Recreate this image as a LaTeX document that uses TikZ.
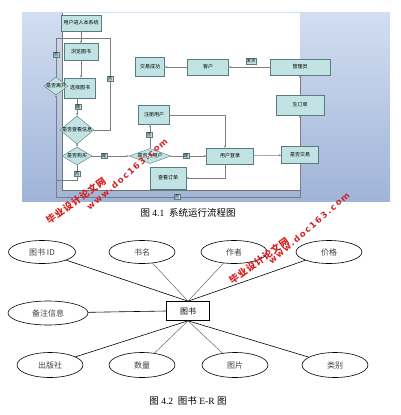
\documentclass[tikz,border=0pt]{standalone}
\usepackage{fontspec}
\setmainfont{Liberation Serif}
\newfontfamily\cjk{Noto Sans CJK SC}
\newfontfamily\cjkwm{Noto Sans CJK SC}[LetterSpace=8]
\newfontfamily\wmfont{DejaVu Sans}[LetterSpace=18]
\usetikzlibrary{shapes.geometric, arrows.meta}

\definecolor{boxfill}{RGB}{194,227,227}
\definecolor{boxline}{RGB}{90,124,128}
\definecolor{flowline}{RGB}{125,125,125}
\definecolor{paneltop}{RGB}{210,222,241}
\definecolor{panelbot}{RGB}{160,180,216}
\definecolor{stamp}{RGB}{214,32,32}

\tikzset{
    fbox/.style={draw=boxline, fill=boxfill, inner sep=0pt, font=\cjk\fontsize{5}{6}\selectfont},
    fdia/.style={diamond, draw=boxline, fill=boxfill, inner sep=0pt},
    dtext/.style={inner sep=0pt, font=\cjk\fontsize{5}{6}\selectfont},
    tag/.style={draw=boxline, fill=boxfill, inner sep=0.7pt, font=\cjk\fontsize{4.5}{5}\selectfont},
    fl/.style={draw=flowline, line width=0.5pt, -{Stealth[length=2.5pt, width=2pt]}},
    fline/.style={draw=flowline, line width=0.5pt},
    ent/.style={draw, line width=0.6pt, minimum width=43pt, minimum height=19pt, inner sep=0pt, font=\cjk\fontsize{8}{9}\selectfont},
    attr/.style={ellipse, draw, line width=0.6pt, minimum width=66pt, minimum height=23pt, inner sep=0pt, text=black!75, font=\cjk\fontsize{8}{9}\selectfont},
    link/.style={draw=black, line width=0.6pt},
    linkg/.style={draw=black!60, line width=0.5pt},
    caption/.style={inner sep=0pt, font=\fontsize{9.5}{11}\selectfont},
    wmcn/.style={text=stamp, inner sep=0pt, font=\cjkwm\bfseries\fontsize{9.5}{10}\selectfont},
    wmen/.style={text=stamp, inner sep=0pt, font=\wmfont\bfseries\fontsize{8.5}{10}\selectfont}
}

\begin{document}
\begin{tikzpicture}[x=1pt, y=-1pt]
    \useasboundingbox (0,0) rectangle (400,415);

    % screenshot panel
    \shade[top color=paneltop, bottom color=panelbot] (22,12) rectangle (390,201);
    \fill[white] (62,13) rectangle (300,190);
    \draw[black!55, line width=0.6pt] (62,13) -- (62,190) -- (300,190);

    % flow chart
    \node[fbox, minimum width=40pt, minimum height=16pt] (enter) at (81,23) {用户进入本系统};
    \node[fbox, minimum width=34pt, minimum height=17pt] (browse) at (81,52) {浏览图书};
    \node[fbox, minimum width=31pt, minimum height=20pt] (choose) at (80,88) {选择图书};
    \node[fdia, minimum width=24pt, minimum height=18pt, label={[dtext]center:是否离开}] (leave) at (56,86) {};
    \node[fdia, minimum width=34pt, minimum height=28pt, label={[dtext]center:是否查看信息}] (view) at (77,130) {};
    \node[fdia, minimum width=30pt, minimum height=18pt, label={[dtext]center:是否购买}] (buy) at (77,156) {};
    \node[fdia, minimum width=42pt, minimum height=15pt, label={[dtext]center:是否为用户}] (isuser) at (150,156) {};
    \node[fbox, minimum width=31pt, minimum height=19pt] (reg) at (154,115) {注册用户};
    \node[fbox, minimum width=47pt, minimum height=16pt] (login) at (230,156) {用户登录};
    \node[fbox, minimum width=36pt, minimum height=22pt] (order) at (168,178) {查看订单};
    \node[fbox, minimum width=37pt, minimum height=17pt] (deal) at (300,155) {是否交易};
    \node[fbox, minimum width=48pt, minimum height=20pt] (mkorder) at (300,105) {生订单};
    \node[fbox, minimum width=60pt, minimum height=16pt] (admin) at (300,67) {管理员};
    \node[fbox, minimum width=41pt, minimum height=16pt] (client) at (208,67) {客户};
    \node[fbox, minimum width=29pt, minimum height=19pt] (done) at (150,67) {交易成功};

    \coordinate (loopin) at (81,38);
    \coordinate (vtop) at (110,38);
    \coordinate (bl) at (56,180);
    \coordinate (bb) at (56,197);
    \coordinate (regin) at (225,148);
    \coordinate (ordturn) at (225,178);

    % Now draw the lines:
    \draw[fl] (enter) -- (browse);
    \draw[fl] (browse) -- (browse |- choose.north);
    \draw[fline] (leave.north) |- (loopin);
    \draw[fline] (view.east) -| (vtop) -- (loopin);
    \draw[fl] (choose.south -| view) -- (view.north);
    \draw[fl] (view) -- (buy);
    \draw[fl] (buy.south) |- (bl) -- (leave.south);
    \draw[fline] (deal.south) |- (bb) -- (bl);
    \draw[fl] (buy) -- (isuser);
    \draw[fl] (isuser.north) -- (isuser.north |- reg.south);
    \draw[fl] (reg.east) -| (regin);
    \draw[fl] (isuser) -- (login);
    \draw[fl] (login) -- (deal);
    \draw[fl] (login.south -| ordturn) -- (ordturn) -- (order.east);
    \draw[fl] (deal) -- (mkorder);
    \draw[fl] (mkorder) -- (admin);
    \draw[fl] (admin) -- (client);
    \draw[fl] (client) -- (done);

    % small tags on the lines
    \node[tag] (tleave) at (56,55) {否};
    \node[tag] (tview) at (110,79) {否};
    \node[tag] (tchoose) at (78,107) {是};
    \node[tag] (tbuy) at (77,174) {否};
    \node[tag] (tbuyyes) at (104,156) {是};
    \node[tag] (treg) at (149,135) {否};
    \node[tag] (tlogin) at (186,156) {是};
    \node[tag] (tdeal) at (177,197) {否};
    \node[tag] (tsend) at (251,61) {发货};

    \node[caption] (cap1) at (188,213) {{\cjk 图} 4.1\enspace{\cjk 系统运行流程图}};

    % E-R diagram
    \node[ent] (book) at (188,311) {图书};
    \node[attr, minimum width=67pt] (eid) at (42,252) {图书 ID};
    \node[attr] (ename) at (142,252) {书名};
    \node[attr] (eauth) at (234,252) {作者};
    \node[attr] (eprice) at (329,252) {价格};
    \node[attr, minimum width=80pt, minimum height=24pt] (enote) at (48,313) {备注信息};
    \node[attr, minimum height=25pt] (epub) at (50,365) {出版社};
    \node[attr, minimum height=25pt] (enum) at (142,365) {数量};
    \node[attr, minimum height=25pt] (epic) at (235,365) {图片};
    \node[attr, minimum height=25pt] (ecat) at (335,365) {类别};

    \draw[link] (eid) -- (book.north);
    \draw[linkg] (ename) -- (book.north);
    \draw[linkg] (eauth) -- (book.north);
    \draw[link] (eprice) -- (book.north);
    \draw[link] (enote) -- (book.west);
    \draw[link] (epub) -- (book.south);
    \draw[linkg] (enum) -- (book.south);
    \draw[linkg] (epic) -- (book.south);
    \draw[link] (ecat) -- (book.south);

    \node[caption] (cap2) at (188,401) {{\cjk 图} 4.2\enspace{\cjk 图书} E-R {\cjk 图}};

    % watermarks
    \node[wmcn, rotate=36] (wm1a) at (76,201) {毕业设计论文网};
    \node[wmen, rotate=41] (wm1b) at (127,174) {www.doc163.com};
    \node[wmcn, rotate=36] (wm2a) at (259,261) {毕业设计论文网};
    \node[wmen, rotate=41] (wm2b) at (309,228) {www.doc163.com};
\end{tikzpicture}
\end{document}
